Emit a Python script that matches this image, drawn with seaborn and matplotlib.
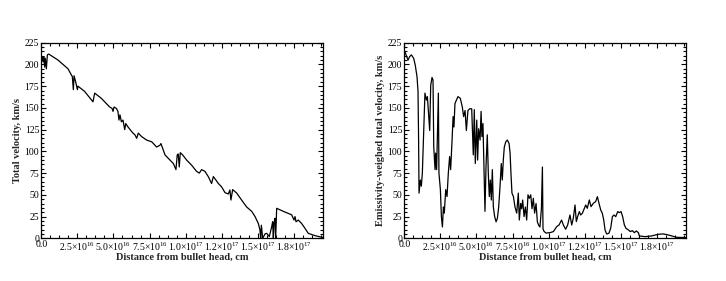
import numpy as np
import pandas as pd
import matplotlib
matplotlib.use("Agg")
import matplotlib.pyplot as plt
import seaborn as sns
from matplotlib.ticker import MultipleLocator, AutoMinorLocator, FuncFormatter

# distance from bullet head in units of 1e16 cm, velocity in km/s
dist_total = [0.00, 0.05, 0.12, 0.17, 0.23, 0.28, 0.35, 0.42, 0.51, 1.16, 1.85, 2.08, 2.15, 2.22,
              2.27, 2.38, 2.50, 2.54, 3.00, 3.58, 3.70, 4.16, 4.74, 4.90, 4.97, 5.04, 5.20, 5.31,
              5.38, 5.45, 5.55, 5.66, 5.78, 5.85, 6.01, 6.35, 6.49, 6.61, 6.72, 6.95, 7.30, 7.65,
              7.99, 8.22, 8.29, 8.41, 8.57, 8.80, 9.15, 9.33, 9.42, 9.49, 9.56, 9.63, 9.79, 10.07,
              10.42, 10.76, 10.95, 11.11, 11.34, 11.57, 11.80, 11.92, 12.10, 12.27, 12.50, 12.73,
              12.96, 13.07, 13.14, 13.26, 13.54, 13.88, 14.23, 14.58, 14.81, 15.04, 15.15, 15.20,
              15.25, 15.34, 15.50, 15.62, 15.80, 15.96, 16.03, 16.08, 16.12, 16.19, 16.24, 16.31,
              16.77, 17.35, 17.51, 17.58, 17.65, 17.81, 18.04, 18.27, 18.50, 18.97, 19.50]
vel_total = [208, 209, 203, 209, 197, 207, 195, 211, 212, 205, 195, 188, 186, 171,
             187, 180, 171, 175, 169, 157, 167, 161, 151, 149.5, 146, 151, 149.5, 146,
             136, 142, 134, 136, 125, 132, 128, 121, 119, 115, 121, 117, 113, 111,
             105, 107, 109, 103.5, 96, 92, 86, 79, 96, 97, 82, 98.5, 96, 90,
             84, 77, 75, 79, 77, 71, 63, 71, 67, 63, 59, 52.5,
             51, 55.6, 44, 56, 52, 44, 36, 31, 25, 17, 9.6, 0,
             15, 0, 5, 5.7, 2, 13, 19, 0, 17, 23, 0, 34.5,
             31, 27, 21, 25, 19, 21, 17, 11.5, 5.7, 3, 1]

dist_emis = [0.03, 0.26, 0.37, 0.49, 0.65, 0.76, 0.88, 0.95, 0.99, 1.02, 1.11, 1.18, 1.25, 1.34,
             1.43, 1.53, 1.60, 1.69, 1.76, 1.83, 1.92, 1.99, 2.04, 2.13, 2.17, 2.24, 2.36, 2.40,
             2.50, 2.57, 2.64, 2.71, 2.77, 2.87, 2.96, 3.05, 3.14, 3.21, 3.31, 3.38, 3.44, 3.51,
             3.61, 3.72, 3.88, 4.02, 4.11, 4.21, 4.30, 4.41, 4.53, 4.67, 4.74, 4.78, 4.85, 4.92,
             5.02, 5.08, 5.15, 5.25, 5.32, 5.38, 5.45, 5.52, 5.59, 5.66, 5.75, 5.82, 5.89, 5.96,
             6.03, 6.10, 6.17, 6.26, 6.36, 6.45, 6.54, 6.63, 6.72, 6.79, 6.86, 6.93, 7.03, 7.14,
             7.26, 7.33, 7.39, 7.46, 7.56, 7.67, 7.79, 7.90, 7.97, 8.06, 8.13, 8.20, 8.30, 8.39,
             8.48, 8.57, 8.66, 8.76, 8.85, 8.94, 9.03, 9.13, 9.22, 9.31, 9.40, 9.50, 9.57, 9.61,
             9.68, 9.82, 10.10, 10.33, 10.56, 10.72, 10.90, 11.02, 11.18, 11.32, 11.48, 11.60,
             11.71, 11.83, 11.92, 12.01, 12.13, 12.22, 12.34, 12.48, 12.57, 12.68, 12.82, 12.94,
             13.10, 13.26, 13.38, 13.49, 13.61, 13.72, 13.82, 13.91, 14.02, 14.18, 14.30, 14.42,
             14.53, 14.65, 14.79, 14.90, 15.02, 15.13, 15.25, 15.36, 15.53, 15.66, 15.80, 15.94,
             16.08, 16.22, 16.29, 16.68, 17.14, 17.60, 17.95, 18.30, 18.87, 19.57]
vel_emis = [215, 205, 209, 211, 207, 199, 186, 169, 113, 52, 67, 60, 75, 121,
            167, 159, 163, 140, 124, 176, 185, 182, 105, 79, 98, 79, 167, 75,
            56, 25, 13, 36, 29, 56, 48, 75, 94, 79, 113, 140, 128, 155,
            159, 163, 161, 151, 140, 147, 124, 147, 149, 149, 113, 96, 148, 86,
            136, 90, 126, 113, 146, 117, 132, 82, 31, 82, 119, 75, 48, 67,
            44, 79, 36, 25, 19, 23, 36, 59, 86, 67, 90, 105, 111, 113,
            109, 98, 75, 52, 48, 36, 29, 52, 21, 40, 34, 44, 25, 36,
            21, 50, 46, 50, 34, 46, 29, 40, 19, 15, 13, 34, 82, 11,
            8, 6, 6.5, 7.7, 13.4, 15.3, 21, 15.3, 10.4, 15.3, 26.8, 15.3,
            23, 38.3, 19.2, 24.9, 30.7, 26.8, 28.8, 34.5, 38.3, 34.5, 44.1, 36.4,
            40.3, 42.2, 47.9, 40.3, 32.6, 28.8, 21, 9.6, 5, 5.8, 11.5, 24.9,
            26.8, 24.9, 30.7, 29.5, 30.7, 24.9, 15.3, 11.5, 9.6, 7.7, 8.8, 6.5,
            8.4, 6.5, 2.7, 1.9, 2.7, 4.6, 5, 3.8, 1.1, 0.8]

ylabels = ["Total velocity, km/s", "Emissivity-weighed total velocity, km/s"]
xlabel = "Distance from bullet head, cm"

sns.set_theme(style="ticks")
plt.rcParams["font.family"] = ["Liberation Serif", "DejaVu Serif"]
plt.rcParams["mathtext.fontset"] = "custom"
plt.rcParams["mathtext.rm"] = "Liberation Serif"
plt.rcParams["mathtext.it"] = "Liberation Serif:italic"
plt.rcParams["mathtext.bf"] = "Liberation Serif:bold"


def sci_fmt(v, pos):
    if abs(v) < 1e10:
        return "0.0"
    if v < 0:
        return ""
    e = int(np.floor(np.log10(v) + 1e-9))
    m = v / 10 ** e
    return f"{m:.1f}×10$^{{{e}}}$"


df_total = pd.DataFrame({"dist": np.array(dist_total) * 1e16, "vel": vel_total})
df_emis = pd.DataFrame({"dist": np.array(dist_emis) * 1e16, "vel": vel_emis})

fig = plt.figure(figsize=(7.26, 2.81), dpi=100)
ax1 = fig.add_axes([0.0569, 0.152, 0.3876, 0.696])
ax2 = fig.add_axes([0.5569, 0.152, 0.3876, 0.696])

for ax, df, yl in [(ax1, df_total, ylabels[0]), (ax2, df_emis, ylabels[1])]:
    sns.lineplot(data=df, x="dist", y="vel", ax=ax, color="black", linewidth=0.9,
                 estimator=None, sort=False)
    ax.set_xlim(0, 1.95e17)
    ax.set_ylim(0, 225)
    ax.xaxis.set_major_locator(MultipleLocator(2.5e16))
    ax.xaxis.set_minor_locator(AutoMinorLocator(4))
    ax.xaxis.set_major_formatter(FuncFormatter(sci_fmt))
    ax.yaxis.set_major_locator(MultipleLocator(25))
    ax.yaxis.set_minor_locator(AutoMinorLocator(5))
    ax.tick_params(which="both", direction="in", top=True, right=True, colors="black",
                   labelsize=7, width=0.8)
    ax.tick_params(which="major", length=3.5, pad=1.5)
    ax.tick_params(which="minor", length=2)
    for s in ax.spines.values():
        s.set_color("black")
        s.set_linewidth(0.9)
    ax.set_xlabel(xlabel, fontsize=7.5, fontweight="bold", labelpad=0)
    ax.set_ylabel(yl, fontsize=7.5, fontweight="bold", labelpad=2)

fig.savefig("out.png", dpi=100, facecolor="white")
